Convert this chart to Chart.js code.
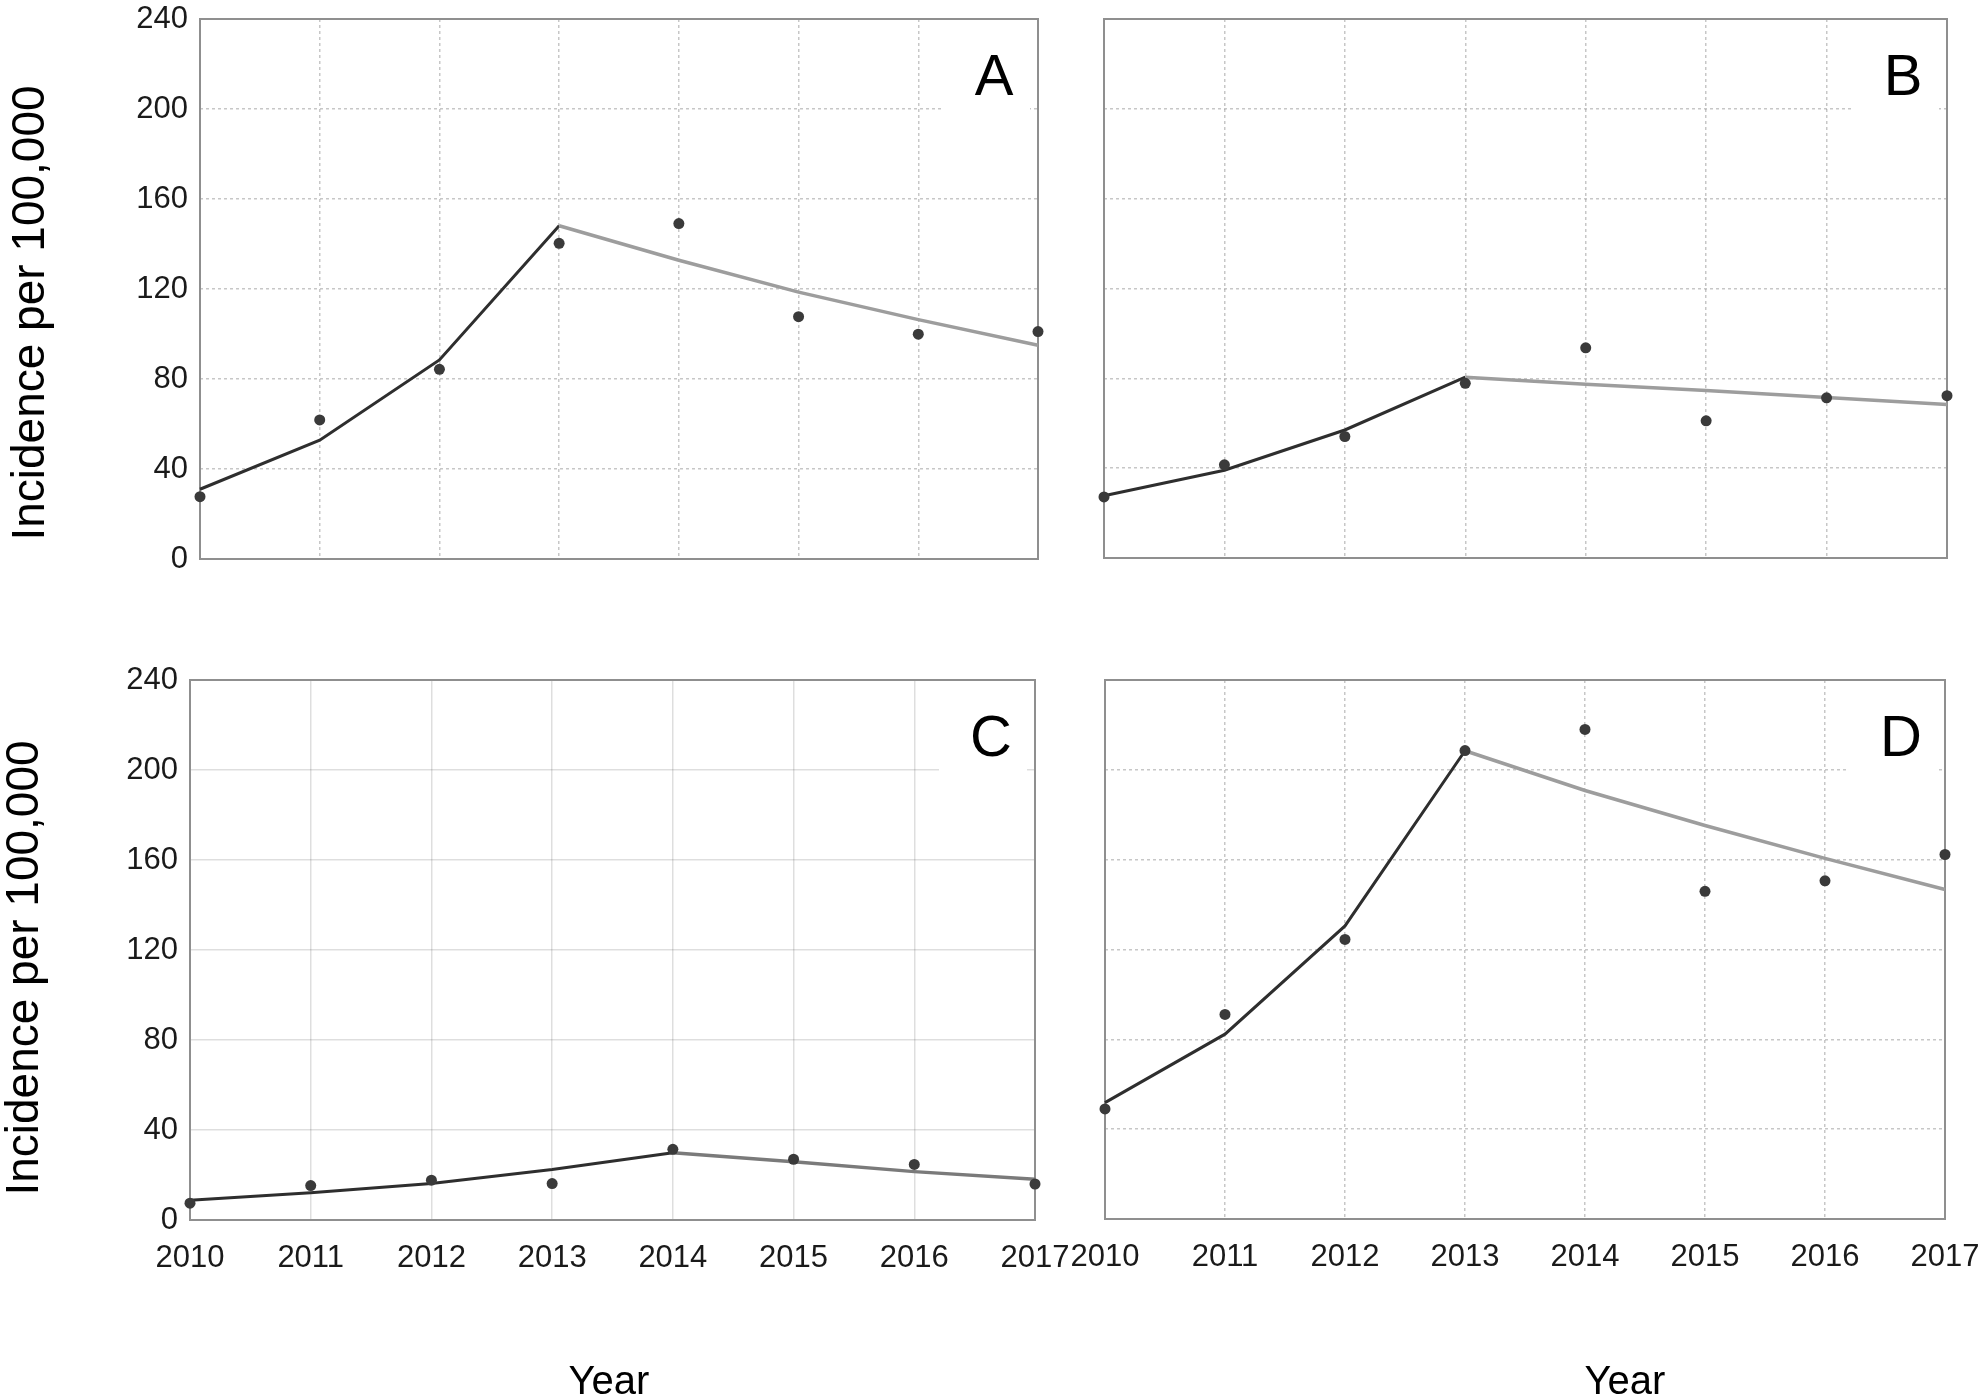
<!DOCTYPE html>
<html>
<head>
<meta charset="utf-8">
<script src="https://cdn.jsdelivr.net/npm/chart.js@4.4.1/dist/chart.umd.min.js"></script>
<style>
  html, body { margin: 0; padding: 0; background: #fff; overflow: hidden; }
  #fig { position: relative; width: 1981px; height: 1399px; }
  .panel { position: absolute; }
</style>
</head>
<body>
<div id="fig">
  <div class="panel" style="left:0;top:0;width:1075px;height:620px"><canvas id="chartA"></canvas></div>
  <div class="panel" style="left:1065px;top:0;width:916px;height:620px"><canvas id="chartB"></canvas></div>
  <div class="panel" style="left:0;top:620px;width:1075px;height:779px"><canvas id="chartC"></canvas></div>
  <div class="panel" style="left:1065px;top:620px;width:916px;height:779px"><canvas id="chartD"></canvas></div>
</div>
<script>
// Data
const years = ['2010', '2011', '2012', '2013', '2014', '2015', '2016', '2017'];
const yTicks = [0, 40, 80, 120, 160, 200, 240];

const observedA = [27.7, 61.8, 84.3, 140.3, 149.1, 107.7, 99.9, 101.1];
const fittedA   = [31.0, 52.8, 88.5, 148.1, 132.8, 118.6, 106.4, 95.0];

const observedB = [27.2, 41.5, 54.1, 77.8, 93.6, 61.1, 71.3, 72.3];
const fittedB   = [27.7, 39.1, 57.0, 80.5, 77.4, 74.6, 71.5, 68.4];

const observedC = [7.5, 15.3, 17.7, 16.2, 31.4, 27.0, 24.7, 16.0];
const fittedC   = [8.8, 12.1, 16.2, 22.4, 29.9, 25.9, 21.5, 18.1];

const observedD = [49.0, 91.1, 124.5, 208.6, 218.0, 145.9, 150.6, 162.3];
const fittedD   = [51.8, 82.3, 130.5, 208.5, 190.8, 175.2, 160.6, 146.7];

// index of the joinpoint year for each panel
const joinA = 3, joinB = 3, joinC = 4, joinD = 3;

const yTitle = 'Incidence per 100,000';
const xTitle = 'Year';

const FONT = "'Liberation Sans', Arial, sans-serif";
const darkLine = '#2e2e2e';
const pointColor = '#3a3a3a';

// frame, panel letter and free-standing titles
const figureText = {
  id: 'figureText',
  beforeDatasetsDraw(chart, args, opts) {
    const { ctx, chartArea } = chart;
    ctx.save();
    ctx.strokeStyle = '#8f8f8f';
    ctx.lineWidth = 2;
    ctx.strokeRect(chartArea.left, chartArea.top, chartArea.width, chartArea.height);

    const cx = chartArea.right - 44;
    const cy = chartArea.top + 58;
    ctx.fillStyle = '#fff';
    ctx.fillRect(cx - 52, cy - 35, 88, 73);
    ctx.fillStyle = '#000';
    ctx.font = '58px ' + FONT;
    ctx.textAlign = 'center';
    ctx.textBaseline = 'middle';
    ctx.fillText(opts.letter, cx, cy + 2);
    ctx.restore();
  },
  afterDraw(chart, args, opts) {
    const { ctx } = chart;
    ctx.save();
    ctx.fillStyle = '#000';
    ctx.textAlign = 'center';
    ctx.textBaseline = 'middle';
    (opts.titles || []).forEach(t => {
      ctx.save();
      ctx.translate(t.x, t.y);
      ctx.rotate(t.rotate || 0);
      ctx.font = t.size + 'px ' + FONT;
      ctx.fillText(t.text, 0, 0);
      ctx.restore();
    });
    ctx.restore();
  }
};

function renderPanel(canvasId, p) {
  const ctx = document.getElementById(canvasId).getContext('2d');
  return new Chart(ctx, {
    type: 'line',
    data: {
      labels: years,
      datasets: [
        {
          label: 'Observed',
          data: p.observed,
          showLine: false,
          pointRadius: 5.5,
          pointBackgroundColor: pointColor,
          pointBorderWidth: 0,
          borderWidth: 0,
          clip: false
        },
        {
          label: 'Modelled',
          data: p.fitted,
          pointRadius: 0,
          borderWidth: 3,
          borderColor: darkLine,
          tension: 0,
          clip: false,
          segment: {
            borderColor: c => c.p0DataIndex >= p.join ? p.lateColor : darkLine,
            borderWidth: c => c.p0DataIndex >= p.join ? 3.5 : 3
          }
        }
      ]
    },
    options: {
      responsive: true,
      maintainAspectRatio: false,
      animation: false,
      layout: { padding: p.padding },
      plugins: {
        legend: { display: false },
        tooltip: { enabled: false },
        figureText: { letter: p.letter, titles: p.titles }
      },
      scales: {
        x: {
          offset: false,
          grid: {
            color: p.gridColor,
            lineWidth: 1.5,
            drawTicks: false
          },
          border: { display: false, dash: p.gridDash },
          ticks: {
            display: p.showX,
            color: '#1a1a1a',
            padding: 20,
            maxRotation: 0,
            autoSkip: false,
            font: { family: FONT, size: 31 }
          },
          afterFit: s => { s.height = p.xHeight; s.paddingLeft = 0; s.paddingRight = 0; }
        },
        y: {
          min: 0,
          max: 240,
          afterBuildTicks: s => { s.ticks = yTicks.map(v => ({ value: v })); },
          grid: {
            color: p.gridColor,
            lineWidth: 1.5,
            drawTicks: false
          },
          border: { display: false, dash: p.gridDash },
          ticks: {
            display: p.showY,
            color: '#1a1a1a',
            padding: 12,
            font: { family: FONT, size: 31 }
          },
          afterFit: s => { s.width = p.yWidth; s.paddingTop = 0; s.paddingBottom = 0; }
        }
      }
    },
    plugins: [figureText]
  });
}

renderPanel('chartA', {
  letter: 'A', observed: observedA, fitted: fittedA, join: joinA, lateColor: '#9d9d9d',
  showX: false, showY: true, yWidth: 200, xHeight: 0,
  padding: { top: 19, right: 37, bottom: 61, left: 0 },
  gridColor: 'rgba(0,0,0,0.22)', gridDash: [3, 3],
  titles: [{ text: yTitle, x: 31, y: 313, size: 46, rotate: -Math.PI / 2 }]
});

renderPanel('chartB', {
  letter: 'B', observed: observedB, fitted: fittedB, join: joinB, lateColor: '#9d9d9d',
  showX: false, showY: false, yWidth: 39, xHeight: 0,
  padding: { top: 19, right: 34, bottom: 62, left: 0 },
  gridColor: 'rgba(0,0,0,0.22)', gridDash: [3, 3],
  titles: []
});

renderPanel('chartC', {
  letter: 'C', observed: observedC, fitted: fittedC, join: joinC, lateColor: '#7a7a7a',
  showX: true, showY: true, yWidth: 190, xHeight: 80,
  padding: { top: 60, right: 40, bottom: 99, left: 0 },
  gridColor: 'rgba(0,0,0,0.13)', gridDash: [],
  titles: [
    { text: yTitle, x: 25, y: 348, size: 46, rotate: -Math.PI / 2 },
    { text: xTitle, x: 609, y: 763, size: 40 }
  ]
});

renderPanel('chartD', {
  letter: 'D', observed: observedD, fitted: fittedD, join: joinD, lateColor: '#9d9d9d',
  showX: true, showY: false, yWidth: 40, xHeight: 80,
  padding: { top: 60, right: 36, bottom: 100, left: 0 },
  gridColor: 'rgba(0,0,0,0.22)', gridDash: [3, 3],
  titles: [{ text: xTitle, x: 560, y: 763, size: 40 }]
});
</script>
</body>
</html>
